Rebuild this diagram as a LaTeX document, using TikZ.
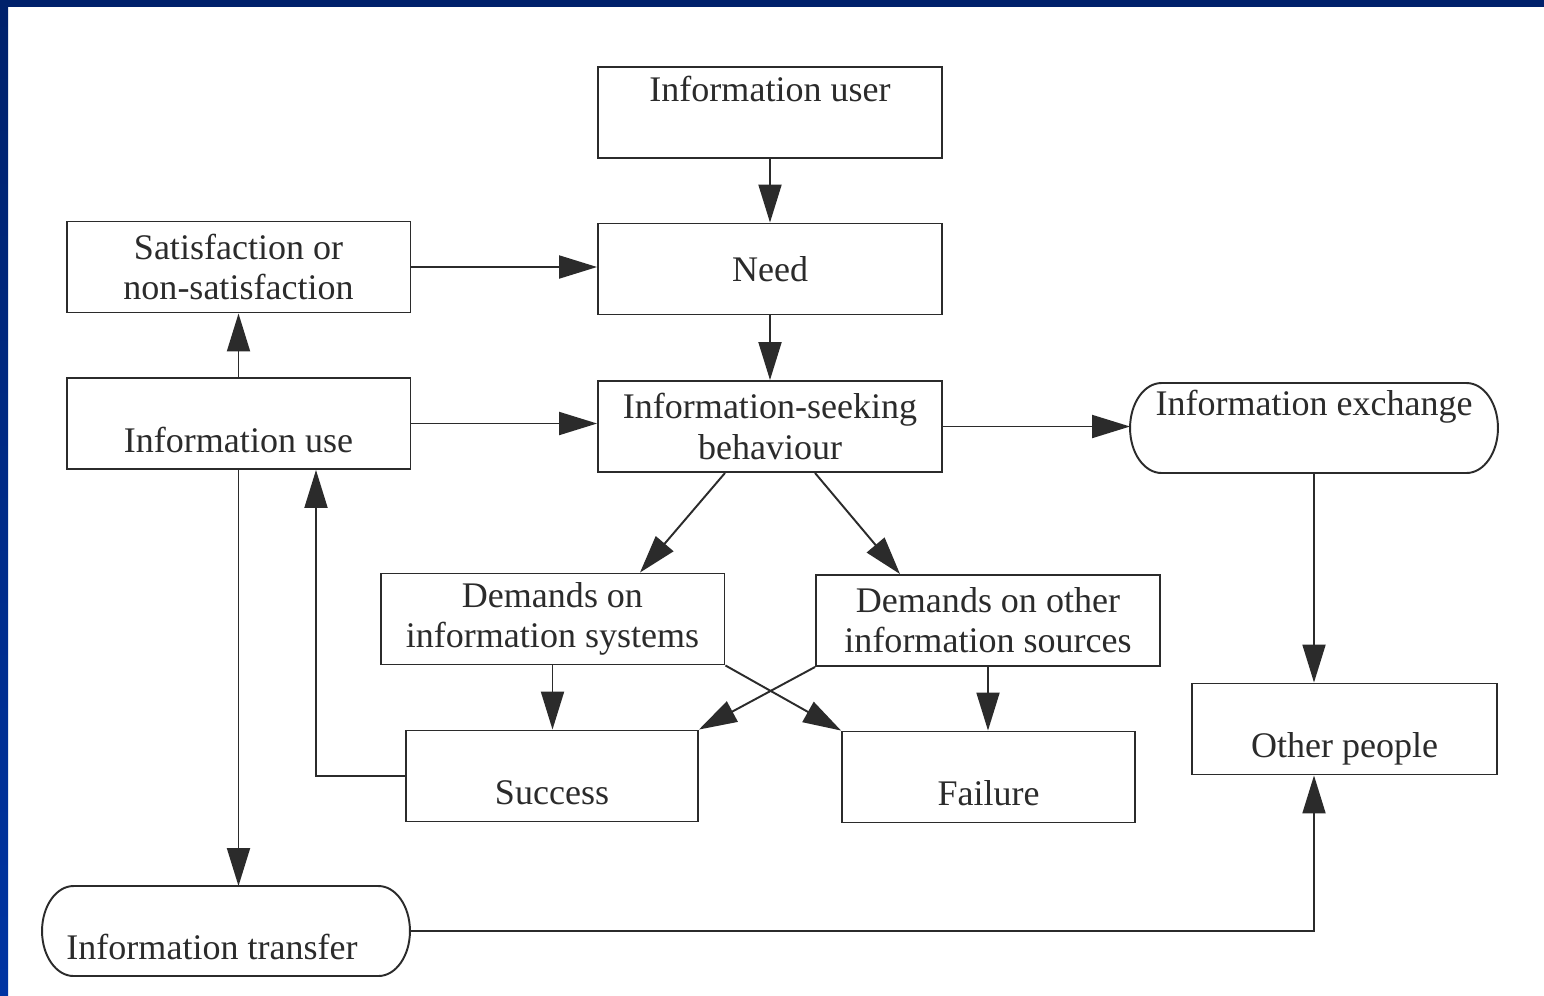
\documentclass[tikz,border=0pt]{standalone}
\usepackage{fontspec}
\setmainfont{Liberation Serif}
\usetikzlibrary{arrows.meta, calc}

\definecolor{framedark}{HTML}{00216B}
\definecolor{framelight}{HTML}{0034A3}
\definecolor{ink}{HTML}{2B2B2B}

\begin{document}
\begin{tikzpicture}[
            x = 0.02cm, y = -0.02cm, % pixel grid, y going down
            > = {Triangle[length=0.76cm, width=0.46cm]}, % arrow head style
            line width = 1.1pt, % line style
            color = ink,
            font = \fontsize{20.5}{22.8}\selectfont
        ]

        \tikzstyle{box}=[
            rectangle,
            draw,
            fill = white,
            align = center,
            inner sep = 0pt,
            minimum width = 6.88cm,
            minimum height = 1.82cm
        ]
        \tikzstyle{pill}=[
            rectangle,
            inner sep = 0pt,
            outer sep = 0pt,
            minimum width = 7.36cm
        ]
        \tikzstyle{hightext}=[text height = 0.68cm, text depth = 1.14cm]
        \tikzstyle{lowtext}=[text height = 1.48cm, text depth = 0.34cm]
        \tikzstyle{pilltop}=[text height = 0.64cm, text depth = 1.16cm]
        \tikzstyle{pilllow}=[text height = 1.46cm, text depth = 0.34cm]
        \tikzstyle{ends}=[x radius = 0.63cm, y radius = 0.9cm] % flat end arcs of the pills

        % frame
        \useasboundingbox (0,0) rectangle (1544,995);
        \fill[white] (0,0) rectangle (1544,995);
        \fill[framedark] (0,0) rectangle (1544,7);
        \shade[top color = framedark, bottom color = framelight] (0,0) rectangle (8,995);

        \node[box, hightext] (user) at (770,112.5) {Information user};
        \node[box] (need) at (770,269) {Need};
        \node[box] (satis) at (238.5,267) {Satisfaction or\\non-satisfaction};
        \node[box, lowtext] (use) at (238.5,423.5) {Information use};
        \node[box] (seek) at (770,426.5) {Information-seeking\\behaviour};
        \node[pill, pilltop] (exch) at (1314,428) {Information exchange};
        \node[box] (dsys) at (552.5,619) {Demands on\\information systems};
        \node[box] (doth) at (988,620.5) {Demands on other\\information sources};
        \node[box, lowtext, minimum width = 5.84cm] (succ) at (552,776) {Success};
        \node[box, lowtext, minimum width = 5.86cm] (fail) at (988.5,777) {Failure};
        \node[box, lowtext, minimum width = 6.10cm] (other) at (1344.5,729) {Other people};
        \node[pill, pilllow] (trans) at (226,931) {Information transfer\kern0.56cm};

        % pill outlines
        \draw[ends] ($(exch.north west)+(31.5,0)$) -- ($(exch.north east)+(-31.5,0)$)
            arc[start angle = 90, end angle = -90] -- ($(exch.south west)+(31.5,0)$)
            arc[start angle = 270, end angle = 90] -- cycle;
        \draw[ends] ($(trans.north west)+(31.5,0)$) -- ($(trans.north east)+(-31.5,0)$)
            arc[start angle = 90, end angle = -90] -- ($(trans.south west)+(31.5,0)$)
            arc[start angle = 270, end angle = 90] -- cycle;

        \path[->] (user) edge (need)
                  (need) edge (seek);
        \draw[->] (satis.east) -- (satis.east -| need.west);
        \draw[->] (use.east) -- (use.east -| seek.west);
        \draw[->] (use.north) -- (satis.south);
        \draw[->] (seek.east) -- (seek.east -| exch.west);
        \draw[->] ($(seek.south)+(-45,0)$) -- ($(dsys.north)+(87.5,0)$);
        \draw[->] ($(seek.south)+(45,0)$) -- ($(doth.north)+(-88,0)$);
        \draw[->] (dsys.south) -- (dsys.south |- succ.north);
        \draw[->] (doth.south) -- (doth.south |- fail.north);
        \draw[->] (dsys.south east) -- (fail.north west);
        \draw[->] (doth.south west) -- (succ.north east);
        \draw[->] (succ.west) -| ($(use.south)+(77.5,0)$);
        \draw[->] (use.south) -- (use.south |- trans.north);
        \draw[->] (exch.south) -- (exch.south |- other.north);
        \draw[->] (trans.east) -| (exch.south |- other.south);

  \end{tikzpicture}
\end{document}
